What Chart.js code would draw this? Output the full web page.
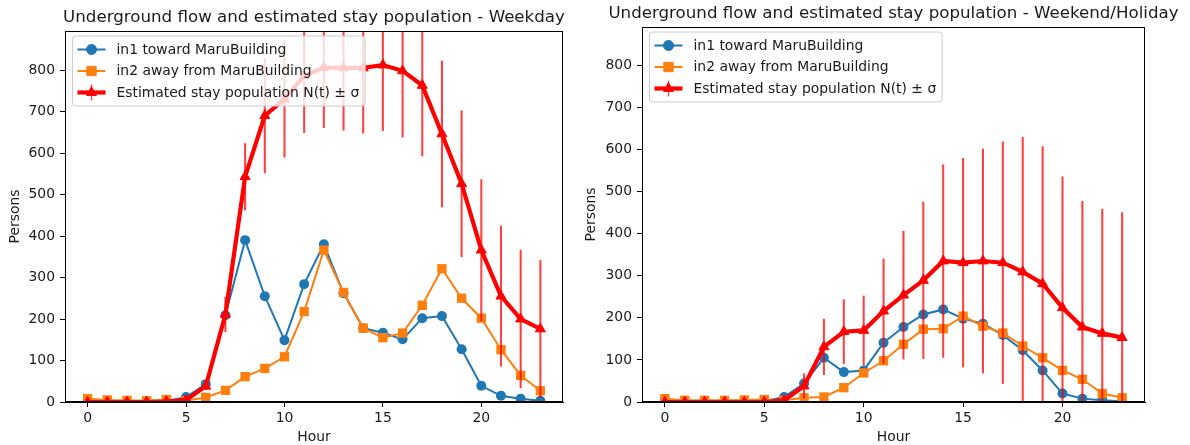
<!DOCTYPE html>
<html>
<head>
<meta charset="utf-8">
<script src="https://cdn.jsdelivr.net/npm/chart.js@4.4.0/dist/chart.umd.min.js"></script>
<style>
  html, body { margin: 0; padding: 0; background: #fff; }
  #wrap { position: relative; width: 1190px; height: 445px; }
  canvas { position: absolute; top: 0; }
  #weekday { left: 0; }
  #weekend { left: 580px; }
</style>
</head>
<body>
<div id="wrap">
  <canvas id="weekday" width="580" height="445"></canvas>
  <canvas id="weekend" width="610" height="445"></canvas>
</div>
<script>
const hours = [0, 1, 2, 3, 4, 5, 6, 7, 8, 9, 10, 11, 12, 13, 14, 15, 16, 17, 18, 19, 20, 21, 22, 23];
const xTicks = [0, 5, 10, 15, 20];
const yTicks = [0, 100, 200, 300, 400, 500, 600, 700, 800];

// weekday
const wdIn1  = [2, 1, 1, 1, 2, 12, 43, 209, 390, 255, 149, 284, 380, 262, 178, 167, 151, 202, 207, 127, 39, 15, 8, 3];
const wdIn2  = [8, 5, 4, 3, 6, 3, 11, 28, 61, 81, 109, 218, 366, 264, 178, 155, 166, 233, 321, 250, 202, 126, 64, 27];
const wdStay = [0, 0, 0, 0, 1, 5, 38, 211, 543, 690, 730, 786, 806, 805, 805, 812, 798, 763, 646, 526, 366, 255, 200, 176];
const wdSig  = [1, 1, 1, 1, 1, 3, 8, 42, 80, 138, 140, 137, 145, 150, 157, 158, 160, 170, 176, 176, 170, 169, 166, 165];

// weekend / holiday
const weIn1  = [3, 2, 2, 2, 2, 2, 12, 44, 105, 71, 75, 141, 178, 208, 220, 198, 186, 159, 123, 75, 20, 8, 4, 2];
const weIn2  = [8, 4, 4, 4, 5, 6, 4, 10, 12, 34, 69, 98, 137, 173, 174, 204, 180, 164, 133, 105, 75, 54, 20, 10];
const weStay = [0, 0, 0, 0, 0, 0, 4, 38, 131, 167, 170, 216, 254, 289, 335, 331, 335, 331, 309, 281, 224, 178, 163, 153];
const weSig  = [1, 1, 1, 1, 1, 1, 3, 29, 66, 76, 82, 124, 152, 186, 229, 248, 266, 287, 320, 326, 311, 299, 295, 297];

const LBL_IN1 = 'in1 toward MaruBuilding';
const LBL_IN2 = 'in2 away from MaruBuilding';
const LBL_N = 'Estimated stay population N(t) \u00b1 \u03c3';

Chart.defaults.font.family = '"DejaVu Sans", sans-serif';
Chart.defaults.font.size = 13.9;
Chart.defaults.color = '#1a1a1a';

// frame, matplotlib-like legend and axes title
const axesDecor = {
  id: 'axesDecor',
  afterDatasetsDraw(chart, args, opts) {
    const ctx = chart.ctx, a = chart.chartArea;
    ctx.save();
    ctx.strokeStyle = '#000';
    ctx.lineWidth = 1;
    ctx.strokeRect(Math.round(a.left) + 0.5, Math.round(a.top) + 0.5,
      Math.round(a.right - a.left) - 1, Math.round(a.bottom - a.top) - 1);

    const items = chart.data.datasets.filter(d => d.type === 'line');
    const errLabels = chart.data.datasets.filter(d => d.type === 'bar').map(d => d.label);
    ctx.font = '13.9px "DejaVu Sans"';
    const textW = Math.max(...items.map(d => ctx.measureText(d.label).width));
    const pad = 5.5, handleLen = 28, gap = 11, rowH = 21.5;
    const x0 = a.left + 7, y0 = a.top + 4.5;
    const w = pad + handleLen + gap + textW + pad;
    const h = 14 + rowH * (items.length - 1) + 13;
    ctx.beginPath();
    if (ctx.roundRect) ctx.roundRect(x0 + 0.5, y0 + 0.5, w, h, 3); else ctx.rect(x0 + 0.5, y0 + 0.5, w, h);
    ctx.fillStyle = 'rgba(255,255,255,0.8)';
    ctx.fill();
    ctx.strokeStyle = '#cccccc';
    ctx.stroke();
    items.forEach((d, i) => {
      const y = y0 + 14 + i * rowH;
      const hx = x0 + pad, cx = hx + handleLen / 2;
      if (errLabels.includes(d.label)) {
        ctx.strokeStyle = 'rgba(255,0,0,0.75)';
        ctx.lineWidth = 1.3;
        ctx.beginPath(); ctx.moveTo(cx, y - 8); ctx.lineTo(cx, y + 8); ctx.stroke();
      }
      ctx.strokeStyle = d.borderColor;
      ctx.lineWidth = d.borderWidth;
      ctx.beginPath(); ctx.moveTo(hx, y); ctx.lineTo(hx + handleLen, y); ctx.stroke();
      ctx.fillStyle = d.pointBackgroundColor;
      ctx.strokeStyle = d.pointBackgroundColor;
      ctx.lineWidth = 1;
      Chart.helpers.drawPoint(ctx, { pointStyle: d.pointStyle, radius: d.pointRadius, borderWidth: 1, rotation: 0 }, cx, y);
      ctx.fillStyle = '#1a1a1a';
      ctx.textAlign = 'left';
      ctx.textBaseline = 'middle';
      ctx.fillText(d.label, x0 + pad + handleLen + gap, y + 0.5);
    });

    ctx.font = '16.67px "DejaVu Sans"';
    ctx.fillStyle = '#1a1a1a';
    ctx.textAlign = 'center';
    ctx.textBaseline = 'alphabetic';
    ctx.fillText(opts.title, (a.left + a.right) / 2, a.top - 9.5);
    ctx.restore();
  }
};

function makeChart(id, title, in1, in2, stay, sig, g) {
  new Chart(document.getElementById(id), {
    type: 'line',
    data: {
      datasets: [
        {
          type: 'line', label: LBL_IN1,
          data: hours.map((h, i) => ({ x: h, y: in1[i] })),
          borderColor: '#1f77b4', borderWidth: 2,
          pointStyle: 'circle', pointRadius: 5,
          pointBackgroundColor: '#1f77b4', pointBorderColor: '#1f77b4', pointBorderWidth: 0,
          clip: 0, order: 4
        },
        {
          type: 'line', label: LBL_IN2,
          data: hours.map((h, i) => ({ x: h, y: in2[i] })),
          borderColor: '#ff7f0e', borderWidth: 2,
          pointStyle: 'rect', pointRadius: 6.6,
          pointBackgroundColor: '#ff7f0e', pointBorderColor: '#ff7f0e', pointBorderWidth: 0,
          clip: 0, order: 3
        },
        {
          type: 'bar', label: LBL_N,
          data: hours.map((h, i) => ({ x: h, y: [stay[i] - sig[i], stay[i] + sig[i]] })),
          backgroundColor: 'rgba(255,0,0,0.75)',
          barThickness: 1.4, borderWidth: 0, grouped: false,
          clip: 0, order: 2
        },
        {
          type: 'line', label: LBL_N,
          data: hours.map((h, i) => ({ x: h, y: stay[i] })),
          borderColor: '#ff0000', borderWidth: 4.2,
          pointStyle: 'triangle', pointRadius: 5.8,
          pointBackgroundColor: '#ff0000', pointBorderColor: '#ff0000', pointBorderWidth: 1,
          clip: 0, order: 1
        }
      ]
    },
    options: {
      responsive: false,
      animation: false,
      events: [],
      layout: { padding: { left: 0, right: g.right, top: g.top, bottom: 0 } },
      plugins: {
        legend: { display: false },
        tooltip: { enabled: false },
        axesDecor: { title: title }
      },
      scales: {
        x: {
          type: 'linear', min: -1.15, max: 24.15, offset: false,
          afterBuildTicks: s => { s.ticks = xTicks.map(v => ({ value: v })); },
          afterFit: s => { s.height = g.bottomH; },
          grid: { display: true, drawOnChartArea: false, tickLength: 5, color: '#000', offset: false },
          border: { display: true, color: '#000', width: 1 },
          ticks: { padding: 3, maxRotation: 0, autoSkip: false },
          title: { display: true, text: 'Hour', padding: { top: 0, bottom: -1 } }
        },
        y: {
          type: 'linear', min: 0, max: g.yMax,
          afterBuildTicks: s => { s.ticks = yTicks.map(v => ({ value: v })); },
          afterFit: s => { s.width = g.leftW; },
          grid: { display: true, drawOnChartArea: false, tickLength: 5, color: '#000' },
          border: { display: true, color: '#000', width: 1 },
          ticks: { padding: 5, autoSkip: false },
          title: { display: true, text: 'Persons', padding: { top: g.yTitlePad, bottom: 0 } }
        }
      }
    },
    plugins: [axesDecor]
  });
}

makeChart('weekday', 'Underground flow and estimated stay population - Weekday',
  wdIn1, wdIn2, wdStay, wdSig,
  { top: 31, right: 17, leftW: 65, bottomH: 43, yTitlePad: 6.8, yMax: 894 });
makeChart('weekend', 'Underground flow and estimated stay population - Weekend/Holiday',
  weIn1, weIn2, weStay, weSig,
  { top: 27, right: 45, leftW: 62, bottomH: 43, yTitlePad: 2.8, yMax: 891 });
</script>
</body>
</html>
